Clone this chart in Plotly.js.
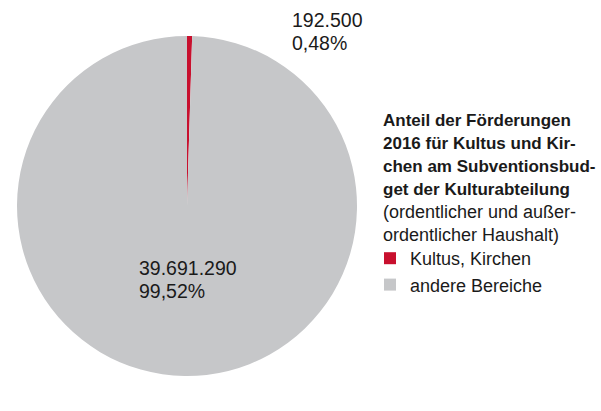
<!DOCTYPE html>
<html>
<head>
<meta charset="utf-8">
<script src="https://cdn.plot.ly/plotly-3.0.1.min.js"></script>
<style>
  html, body { margin: 0; padding: 0; background: #ffffff; }
  #chart { width: 601px; height: 411px; }
</style>
</head>
<body>
<div id="chart"></div>
<script>
// ---- data ----
const categories = ["Kultus, Kirchen", "andere Bereiche"];
const values = [192500, 39691290];
const sliceColors = ["#c8102e", "#c6c7c9"];
const titleBoldLines = [
  "Anteil der Förderungen",
  "2016 für Kultus und Kir-",
  "chen am Subventionsbud-",
  "get der Kulturabteilung"
];
const titleNormalLines = [
  "(ordentlicher und außer-",
  "ordentlicher Haushalt)"
];

// ---- helpers ----
const W = 601, H = 411;
const px = x => x / W;
const py = y => 1 - y / H;
function fmtNum(v) {
  return String(v).replace(/\B(?=(\d{3})+(?!\d))/g, ".");
}
function fmtPct(v, total) {
  return (v / total * 100).toFixed(2).replace(".", ",") + "%";
}
const total = values.reduce((a, b) => a + b, 0);
const FONT = "Liberation Sans, Arial, sans-serif";
const TXT = "#1a1a1a";

const trace = {
  type: "pie",
  labels: categories,
  values: values,
  sort: false,
  direction: "clockwise",
  rotation: 0,
  textinfo: "none",
  hoverinfo: "none",
  marker: { colors: sliceColors, line: { width: 0 } },
  domain: { x: [px(17), px(357)], y: [py(376), py(36)] },
  showlegend: true
};

const annotations = [];

// data labels: one annotation per line for precise spacing
const labelAnchors = [
  { x: 290, y: 20 },   // Kultus, Kirchen (outside, top)
  { x: 137, y: 268 }   // andere Bereiche (inside)
];
const LABEL_GAP = 22.5;
values.forEach((v, i) => {
  const lines = [fmtNum(v), fmtPct(v, total)];
  lines.forEach((t, j) => {
    annotations.push({
      xref: "paper", yref: "paper",
      x: px(labelAnchors[i].x), y: py(labelAnchors[i].y + j * LABEL_GAP),
      xanchor: "left", yanchor: "middle",
      align: "left", showarrow: false,
      text: t,
      font: { family: FONT, size: 19.5, color: TXT }
    });
  });
});

// legend heading, one line per annotation
const titleLines = titleBoldLines.map(t => ({ t: "<b>" + t + "</b>", size: 17 }))
  .concat(titleNormalLines.map(t => ({ t: t, size: 18 })));
const TITLE_TOP = 121, TITLE_GAP = 22.7;
titleLines.forEach((l, i) => {
  annotations.push({
    xref: "paper", yref: "paper",
    x: px(381), y: py(TITLE_TOP + i * TITLE_GAP),
    xanchor: "left", yanchor: "middle",
    align: "left", showarrow: false,
    text: l.t,
    font: { family: FONT, size: l.size, color: TXT }
  });
});

const layout = {
  width: W, height: H,
  margin: { l: 0, r: 0, t: 0, b: 0 },
  paper_bgcolor: "#ffffff",
  font: { family: FONT, color: TXT },
  showlegend: true,
  legend: {
    x: px(370), y: py(240), xanchor: "left", yanchor: "top",
    font: { family: FONT, size: 18, color: TXT },
    bgcolor: "rgba(0,0,0,0)",
    traceorder: "normal"
  },
  annotations: annotations
};

Plotly.newPlot("chart", [trace], layout, { staticPlot: true, displayModeBar: false });
</script>
</body>
</html>
